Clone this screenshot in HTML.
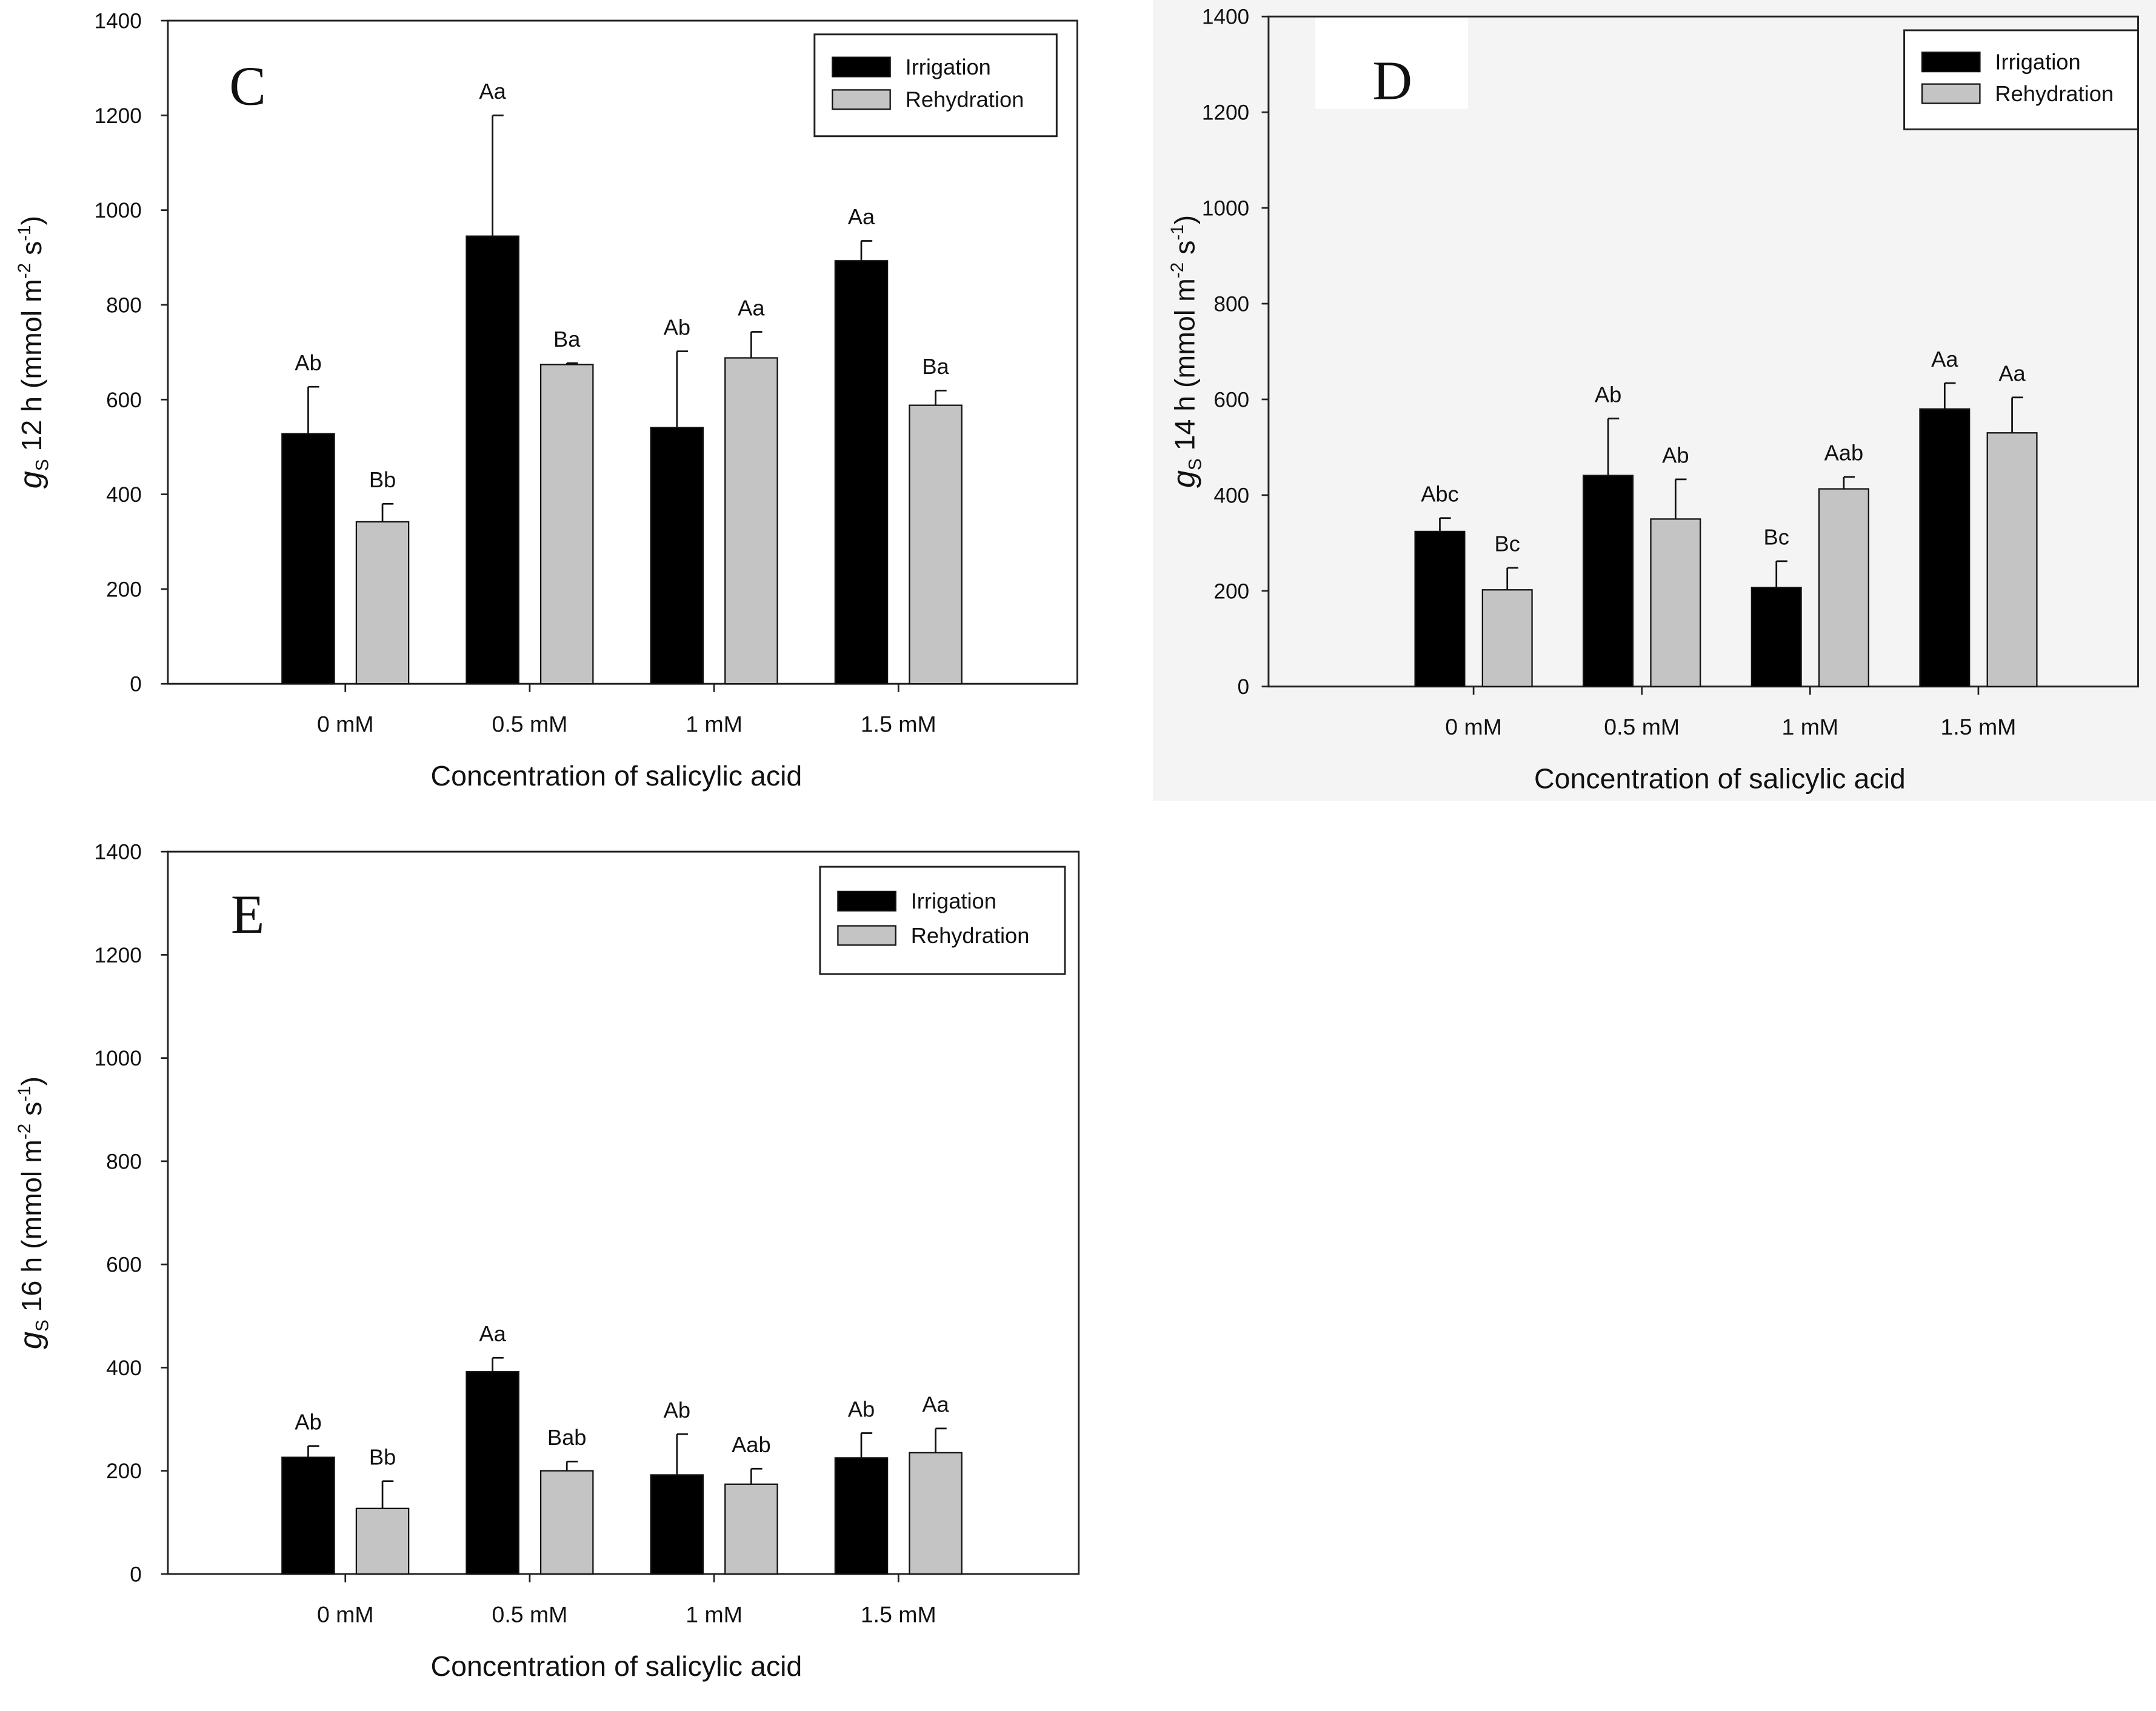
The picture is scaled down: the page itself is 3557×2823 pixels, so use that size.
<!DOCTYPE html>
<html><head><meta charset="utf-8"><style>
html,body{margin:0;padding:0;background:#fff;}
svg{display:block;}
text{font-family:"Liberation Sans",sans-serif;fill:#111;}
</style></head><body>
<svg id="fig" xmlns="http://www.w3.org/2000/svg" width="3557" height="2823" viewBox="0 0 1567 1243.6" preserveAspectRatio="none">
<rect x="0" y="0" width="1567" height="1243.6" fill="#fff"/>
<rect x="838" y="0" width="729" height="582" fill="#f4f4f4"/>
</svg>
<script>
const categories = ["0 mM","0.5 mM","1 mM","1.5 mM"];
const yTicks = [0,200,400,600,800,1000,1200,1400];
const cIrr = [528,945,541,893];
const cIrrErr = [627,1200,702,935];
const cReh = [342,674,688,588];
const cRehErr = [380,677,743,619];
const cIrrLbl = ["Ab","Aa","Ab","Aa"];
const cRehLbl = ["Bb","Ba","Aa","Ba"];
const dIrr = [324,441,207,580];
const dIrrErr = [352,560,262,634];
const dReh = [202,350,413,530];
const dRehErr = [248,433,438,604];
const dIrrLbl = ["Abc","Ab","Bc","Aa"];
const dRehLbl = ["Bc","Ab","Aab","Aa"];
const eIrr = [226,392,192,225];
const eIrrErr = [248,419,271,273];
const eReh = [127,200,174,235];
const eRehErr = [180,218,204,282];
const eIrrLbl = ["Ab","Aa","Ab","Ab"];
const eRehLbl = ["Bb","Bab","Aab","Aa"];

const svg = document.getElementById('fig');
const NS = "http://www.w3.org/2000/svg";
function mk(tag, attrs, parent){
  const e = document.createElementNS(NS, tag);
  for (const k in attrs) e.setAttribute(k, attrs[k]);
  (parent||svg).appendChild(e);
  return e;
}
function panel(p){
  const g = mk('g', {});
  
  
  const y = v => p.bottom - (v/1400)*(p.bottom - p.top);
  const gx = i => p.first + i*p.spacing;
  const fr = mk('rect', {x:p.left, y:p.top, width:p.right-p.left, height:p.bottom-p.top, fill:'none', stroke:'#222', 'stroke-width':1.3}, g);
  
  
  yTicks.forEach(v => {
    mk('line', {x1:p.left-5, x2:p.left, y1:y(v), y2:y(v), stroke:'#222', 'stroke-width':1.2}, g);
    const t = mk('text', {x:p.left-p.tg, y:y(v)+5.5, 'text-anchor':'end', 'font-size':15.5}, g);
    t.textContent = v;
    
    
  });
  categories.forEach((c, i) => {
    const cx = gx(i);
    mk('line', {x1:cx, x2:cx, y1:p.bottom, y2:p.bottom+6, stroke:'#222', 'stroke-width':1.2}, g);
    const tl = mk('text', {x:cx, y:p.bottom+35, 'text-anchor':'middle', 'font-size':16.5}, g);
    tl.textContent = c;
    
    
    [[p.irr, p.irrErr, p.irrLbl, -p.off, '#000', 'irrigation'], [p.reh, p.rehErr, p.rehLbl, p.off, '#c4c4c4', 'rehydration']].forEach(s => {
      const bx = cx + s[3];
      const v = s[0][i], ev = s[1][i];
      const r = mk('rect', {x:bx-p.bw/2, y:y(v), width:p.bw, height:p.bottom-y(v), fill:s[4], stroke:'#111', 'stroke-width':1}, g);
      
      
      mk('line', {x1:bx, x2:bx, y1:y(v), y2:y(ev), stroke:'#111', 'stroke-width':1.2}, g);
      mk('line', {x1:bx, x2:bx+8, y1:y(ev), y2:y(ev), stroke:'#111', 'stroke-width':1.2}, g);
      const lb = mk('text', {x:bx, y:y(ev)-12, 'text-anchor':'middle', 'font-size':16}, g);
      lb.textContent = s[2][i];
      
      
    });
  });
  mk('rect', {x:p.lb[0], y:p.lb[1], width:p.lb[2], height:p.lb[3], fill:'#fff'}, g);
  const L = mk('text', {x:p.lx, y:p.ly, 'text-anchor':'middle', 'font-size':40, style:'font-family:"Liberation Serif",serif'}, g);
  L.textContent = p.id.toUpperCase();
  
  
  const lg = mk('g', {}, g);
  
  
  const [lx, ly, lw, lh] = p.leg;
  mk('rect', {x:lx, y:ly, width:lw, height:lh, fill:'#fff', stroke:'#222', 'stroke-width':1.3}, lg);
  [['Irrigation', '#000', 0.32], ['Rehydration', '#c4c4c4', 0.64]].forEach(e => {
    const cy = ly + lh*e[2];
    mk('rect', {x:lx+13, y:cy-7, width:42, height:14, fill:e[1], stroke:'#111', 'stroke-width':1}, lg);
    const t = mk('text', {x:lx+66, y:cy+5.5, 'font-size':16}, lg);
    t.textContent = e[0];
    
    
  });
  const xt = mk('text', {x:p.xtx, y:p.bottom+74, 'text-anchor':'middle', 'font-size':20.5}, g);
  xt.textContent = 'Concentration of salicylic acid';
  
  
  const yc = (p.top+p.bottom)/2;
  const yt = mk('text', {x:0, y:0, 'text-anchor':'middle', 'font-size':20.5, transform:`translate(${p.ytx},${yc}) rotate(-90)`}, g);
  
  
  yt.innerHTML = `<tspan font-style="italic" font-size="23">g</tspan><tspan font-size="13" dy="5">S</tspan><tspan dy="-5"> ${p.hr} h (mmol m</tspan><tspan font-size="13" dy="-8">-2</tspan><tspan dy="8"> s</tspan><tspan font-size="13" dy="-8">-1</tspan><tspan dy="8">)</tspan>`;
}
panel({id:'c', hr:12, left:122, right:783, top:15, bottom:497, first:251, spacing:134, bw:38, off:27, tg:19,
  irr:cIrr, irrErr:cIrrErr, reh:cReh, rehErr:cRehErr, irrLbl:cIrrLbl, rehLbl:cRehLbl,
  lb:[123,16,114,74], lx:180, ly:76, leg:[592,25,176,74], xtx:448, ytx:30});
panel({id:'d', hr:14, left:922, right:1554, top:12, bottom:499, first:1071, spacing:122.3, bw:36, off:24.5, tg:14,
  irr:dIrr, irrErr:dIrrErr, reh:dReh, rehErr:dRehErr, irrLbl:dIrrLbl, rehLbl:dRehLbl,
  lb:[956,13,111,66], lx:1012, ly:72, leg:[1384,22,170,72], xtx:1250, ytx:868});
panel({id:'e', hr:16, left:122, right:784, top:619, bottom:1144, first:251, spacing:134, bw:38, off:27, tg:19,
  irr:eIrr, irrErr:eIrrErr, reh:eReh, rehErr:eRehErr, irrLbl:eIrrLbl, rehLbl:eRehLbl,
  lb:[123,620,114,72], lx:180, ly:678, leg:[596,630,178,78], xtx:448, ytx:30});
</script>
</body></html>
